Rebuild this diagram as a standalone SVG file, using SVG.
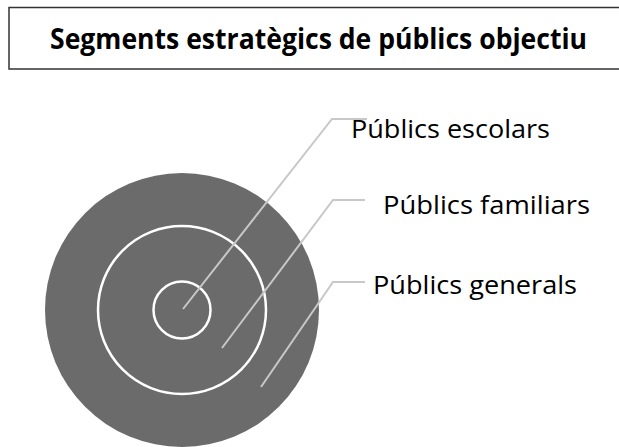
<svg xmlns="http://www.w3.org/2000/svg" width="619" height="447" viewBox="0 0 619 447">
<style>
.lbl{font-family:"Open Sans","Liberation Sans",sans-serif;font-size:25.5px;fill:#000}
.ring{fill:none;stroke:#fff;stroke-width:2.5}
.con{fill:none;stroke:#c8c8c8;stroke-width:2}
</style>
<rect x="0" y="0" width="619" height="447" fill="#fff"/>
<g id="title">
<rect x="9" y="7.5" width="612" height="61.5" fill="#fff" stroke="#333" stroke-width="1.5"/>
<text x="50" y="49" font-family="'Open Sans','Liberation Sans',sans-serif" font-size="28" font-weight="bold" textLength="537" lengthAdjust="spacingAndGlyphs">Segments estratègics de públics objectiu</text>
</g>
<g id="outer"><circle cx="182" cy="310" r="137" fill="#6b6b6b"/></g>
<g id="middle"><circle class="ring" cx="182" cy="310" r="84"/></g>
<g id="inner"><circle class="ring" cx="182" cy="310" r="28.5"/></g>
<g id="connectors">
<polyline class="con" points="183,309 332,119 367,119"/>
<polyline class="con" points="222,348 333,200 365,200"/>
<polyline class="con" points="261,387 333,282 365,282"/>
</g>
<g id="lbl-escolars"><text class="lbl" x="351" y="138" textLength="199" lengthAdjust="spacingAndGlyphs">Públics escolars</text></g>
<g id="lbl-familiars"><text class="lbl" x="383" y="214" textLength="207" lengthAdjust="spacingAndGlyphs">Públics familiars</text></g>
<g id="lbl-generals"><text class="lbl" x="373" y="294" textLength="204" lengthAdjust="spacingAndGlyphs">Públics generals</text></g>
</svg>
